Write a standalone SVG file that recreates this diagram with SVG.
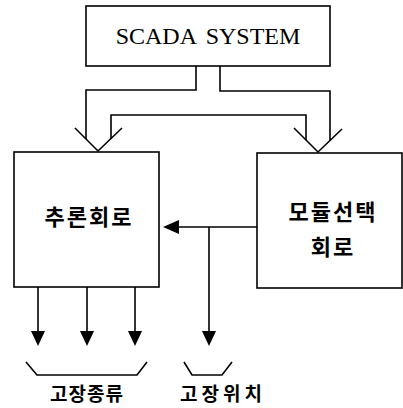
<svg xmlns="http://www.w3.org/2000/svg" width="403" height="408" viewBox="0 0 403 408">
<style>
.box{fill:#fff;stroke:#000;stroke-width:1.6}
.ln{fill:none;stroke:#000;stroke-width:1.6}
.en{font-family:"Liberation Serif","Times New Roman",serif;font-size:24px;fill:#000}
.ko{font-family:"Noto Sans CJK KR",sans-serif;font-weight:bold;fill:#000;text-anchor:middle}
</style>
<rect width="403" height="408" fill="#fff"/>
<g id="connectors">
<polyline class="ln" points="196,66 196,90 86,90 86,139"/>
<polyline class="ln" points="220,66 220,91 330,91 330,141"/>
<polyline class="ln" points="111,139 111,115 306,115 306,140"/>
<polyline class="ln" points="75,128 98,151 122,128"/>
<polyline class="ln" points="294,128 318,152 342,129"/>
<line class="ln" x1="257" y1="227" x2="178" y2="227"/>
<path d="M179,220 L163,227 L179,234 Z" fill="#000"/>
<line class="ln" x1="209" y1="227" x2="209" y2="332"/>
<path d="M202,331 L216,331 L209,346 Z" fill="#000"/>
<line class="ln" x1="38" y1="287" x2="38" y2="332"/>
<path d="M31,331 L45,331 L38,346 Z" fill="#000"/>
<line class="ln" x1="87" y1="287" x2="87" y2="332"/>
<path d="M80,331 L94,331 L87,346 Z" fill="#000"/>
<line class="ln" x1="135" y1="287" x2="135" y2="332"/>
<path d="M128,331 L142,331 L135,346 Z" fill="#000"/>
<polyline class="ln" points="26,362 37,375 137,375 147,362"/>
<polyline class="ln" points="184,362 192,375 222,375 232,362"/>
</g>
<g id="scada">
<rect class="box" x="86" y="6" width="244" height="60"/>
<text class="en" x="208" y="44" text-anchor="middle" word-spacing="4">SCADA SYSTEM</text>
</g>
<g id="inference">
<rect class="box" x="14" y="152" width="145" height="135"/>
<text class="ko" x="89" y="225" font-size="22" letter-spacing="2">추론회로</text>
</g>
<g id="module">
<rect class="box" x="257" y="153" width="145" height="135"/>
<text class="ko" x="333" y="220" font-size="22" letter-spacing="2">모듈선택</text>
<text class="ko" x="333" y="255" font-size="22" letter-spacing="2">회로</text>
</g>
<g id="labels">
<text class="ko" x="87" y="401" font-size="19" letter-spacing="1">고장종류</text>
<text class="ko" x="223" y="401" font-size="19" letter-spacing="4">고장위치</text>
</g>
</svg>
